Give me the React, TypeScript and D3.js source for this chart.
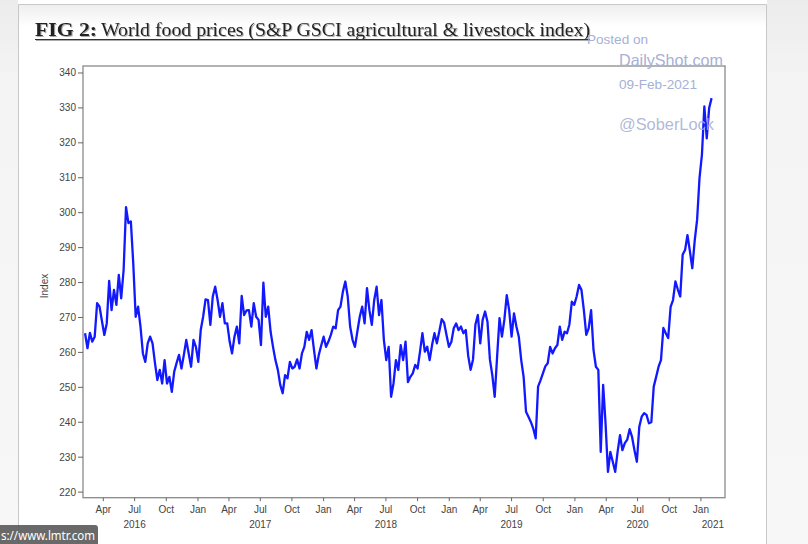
import React from "react";
import * as d3 from "d3";

// Weekly readings of the S&P GSCI agricultural & livestock index (from Feb 2016)
const food2016 = [265.5, 261.2, 265.6, 263.1, 264.5, 274.1, 273.1, 269, 265, 268.3,
  280.5, 272.1, 277.9, 273.6, 282.2, 275.5, 283.6, 301.6, 297, 297.5,
  285.5, 270.2, 273.1, 267.4, 259.7, 257.3, 262.6, 264.5, 262.6, 257,
  252.1, 255, 251.1, 257.8, 251.1, 253, 248.7, 254.5, 257, 259.3,
  255.4, 259.3, 263.6, 259.7, 255.9, 263.6, 261.6];
const food2017 = [257.3, 266.4, 270.2, 275.2, 275, 267.9, 276, 278.8, 275, 270.2,
  274.1, 268.3, 268.3, 263.1, 259.7, 264.5, 267.4, 262.6, 276.2, 270.7,
  272, 272.1, 267.4, 274.1, 270.2, 269.3, 262.1, 280, 270.2, 273.1,
  265.9, 261.6, 257.8, 255, 250.7, 248.3, 253.5, 252.6, 257.3, 255.4,
  255.9, 258, 255.4, 259.7, 261.6, 265.9, 263.6, 266.4, 260.7, 255.4,
  259.3, 262];
const food2018 = [264.5, 261.6, 263.1, 265, 267.4, 266.9, 272.1, 273.1, 277.4, 280.3,
  276, 267.4, 263.6, 261.6, 266, 270.2, 273.1, 268.3, 278.4, 272.1,
  267.9, 275, 278.8, 270.7, 275, 263.6, 257.8, 261.6, 247.3, 251.1,
  257.8, 255, 262.1, 257.8, 263.1, 251.5, 253, 254, 256.4, 255.4,
  260.2, 265.5, 260.2, 261.6, 257.8, 262.1, 265.5, 262.6, 266, 269.5,
  268.5, 265, 261.6];
const food2019 = [263, 266.9, 268.3, 266.4, 267.4, 265.5, 266.4, 259, 255, 258,
  268, 270.7, 262.6, 269.3, 271.7, 268.8, 258, 253.5, 247.3, 258.8,
  269.8, 264.5, 269.3, 276.4, 272.1, 264.5, 271.2, 267.4, 264.5, 257.8,
  253, 243, 241.6, 240.1, 238.2, 235.4, 250.2, 252, 254, 256,
  256.9, 261.6, 259.7, 261.2, 262.1, 267.4, 263.6, 265.9, 265.5, 268,
  274.5, 273.6];
const food2020 = [276, 279.3, 277.9, 272.1, 265, 266.9, 272.1, 260.7, 255.9, 255,
  231.5, 250.7, 239.7, 225.8, 231.5, 228.7, 225.8, 231.5, 236.3, 232,
  234, 235, 238, 235.8, 232, 228.7, 238.7, 241.6, 242.6, 242.1,
  239.7, 240, 250.2, 253, 255.9, 257.8, 267, 265.5, 264.1, 273,
  275, 280.3, 278, 276, 288, 289.3, 293.6, 289, 284.1, 292,
  298, 310];
const food2021 = [316.6, 330.4, 321.3, 330, 332.8];

const SERIES_START = new Date(2016, 1, 8);
const X_DOMAIN = [new Date(2016, 1, 2), new Date(2021, 2, 12)];
const Y_DOMAIN = [218.4, 342];
const yTickValues = [220, 230, 240, 250, 260, 270, 280, 290, 300, 310, 320, 330, 340];
const yearLabels = [2016, 2017, 2018, 2019, 2020, 2021];

const TITLE_BOLD = "FIG 2:";
const TITLE_REST = "World food prices (S&P GSCI agricultural & livestock index)";
const Y_LABEL = "Index";

export default function App() {
  const W = 808, H = 544;
  const L = 83, R = 725, T = 66, B = 497.7;
  const values = [...food2016, ...food2017, ...food2018, ...food2019, ...food2020, ...food2021];
  const data = values.map((v, i) => ({ date: d3.timeWeek.offset(SERIES_START, i), value: v }));

  const x = d3.scaleTime().domain(X_DOMAIN).range([L, R]);
  const y = d3.scaleLinear().domain(Y_DOMAIN).range([B, T]);
  const line = d3.line<{ date: Date; value: number }>().x(d => x(d.date)).y(d => y(d.value));
  const xTicks = d3.timeMonth.every(3)!.range(new Date(2016, 3, 1), new Date(2021, 0, 2));
  const fmt = d3.timeFormat("%b");
  const yearX = (yr: number) =>
    yr === 2021 ? (x(new Date(2021, 0, 1)) + R) / 2 : x(new Date(yr, 6, 1));

  const axisFont = "'Liberation Sans', Arial, sans-serif";
  const wm = "#a7b0d6";

  return (
    <div style={{ position: "fixed", left: 0, top: 0 }}>
      <svg width={W} height={H} viewBox={`0 0 ${W} ${H}`} style={{ display: "block" }}>
        <defs>
          <linearGradient id="sideG" x1="0" y1="0" x2="0" y2="1">
            <stop offset="0" stopColor="#ececec" />
            <stop offset="0.15" stopColor="#f4f4f4" />
            <stop offset="1" stopColor="#f7f7f7" />
          </linearGradient>
          <linearGradient id="topG" x1="0" y1="0" x2="0" y2="1">
            <stop offset="0" stopColor="#eeeeee" />
            <stop offset="1" stopColor="#ffffff" />
          </linearGradient>
          <filter id="tshadow" x="-5%" y="-30%" width="110%" height="160%">
            <feDropShadow dx="1" dy="1" stdDeviation="0.6" floodColor="#888" floodOpacity="0.7" />
          </filter>
        </defs>
        <rect x={0} y={0} width={W} height={H} fill="#ffffff" />
        <rect x={0} y={0} width={18} height={H} fill="url(#sideG)" />
        <rect x={767} y={0} width={W - 767} height={H} fill="url(#sideG)" />
        <rect x={18.5} y={4.5} width={748} height={22} fill="url(#topG)" />
        <path d={`M18.5,${H} V4.5 H766.5 V${H}`} fill="none" stroke="#c8c8c8" strokeWidth={1} />

        {/* title */}
        <g filter="url(#tshadow)">
          <text x={35} y={36} fontFamily="'Liberation Serif', 'Times New Roman', serif" fontSize={18}
            fontWeight="bold" fill="#222" textLength={62} lengthAdjust="spacingAndGlyphs">{TITLE_BOLD}</text>
          <text x={101} y={36} fontFamily="'Liberation Serif', 'Times New Roman', serif" fontSize={18}
            fill="#222" textLength={489} lengthAdjust="spacingAndGlyphs">{TITLE_REST}</text>
          <line x1={35} x2={590} y1={39.5} y2={39.5} stroke="#333" strokeWidth={1.2} />
        </g>

        {/* plot frame */}
        <rect x={L} y={T} width={R - L} height={B - T} fill="#fff" stroke="#8a8a8a" strokeWidth={1.3} />

        {/* y axis */}
        {yTickValues.map(v => (
          <g key={v}>
            <line x1={L - 5} x2={L} y1={y(v)} y2={y(v)} stroke="#666" strokeWidth={1} />
            <text x={L - 7} y={y(v)} dy="0.35em" textAnchor="end" fontFamily={axisFont}
              fontSize={10} fill="#444">{v}</text>
          </g>
        ))}
        <text transform={`translate(48,${y(279)}) rotate(-90)`} textAnchor="middle"
          fontFamily={axisFont} fontSize={10} fill="#444">{Y_LABEL}</text>

        {/* x axis */}
        {xTicks.map((d, i) => (
          <g key={i}>
            <line x1={x(d)} x2={x(d)} y1={B} y2={B + 3.5} stroke="#666" strokeWidth={1} />
            <text x={x(d)} y={513} textAnchor="middle" fontFamily={axisFont} fontSize={10}
              fill="#444">{fmt(d)}</text>
          </g>
        ))}
        {yearLabels.map(yr => (
          <text key={yr} x={yearX(yr)} y={528} textAnchor="middle" fontFamily={axisFont}
            fontSize={10} fill="#444">{yr}</text>
        ))}

        {/* series */}
        <path d={line(data) || ""} fill="none" stroke="#1219ff" strokeWidth={2.3}
          strokeLinejoin="round" />

        {/* watermark */}
        <text x={587} y={44} fontFamily={axisFont} fontSize={12.5} fill={wm}
          textLength={61} lengthAdjust="spacingAndGlyphs">Posted on</text>
        <text x={619} y={66} fontFamily={axisFont} fontSize={16.5} fill={wm}
          textLength={104} lengthAdjust="spacingAndGlyphs">DailyShot.com</text>
        <text x={619} y={89} fontFamily={axisFont} fontSize={12} fill={wm}
          textLength={78} lengthAdjust="spacingAndGlyphs">09-Feb-2021</text>
        <text x={619} y={130} fontFamily={axisFont} fontSize={16.5} fill={wm} fillOpacity={0.9}
          textLength={95} lengthAdjust="spacingAndGlyphs">@SoberLock</text>

        {/* url badge */}
        <rect x={-4} y={525} width={102} height={24} rx={3} fill="#5c5c5c" fillOpacity={0.92} />
        <text x={1} y={539.5} fontFamily="'Noto Sans', 'Liberation Sans', sans-serif" fontSize={12.5}
          fill="#ffffff" textLength={94} lengthAdjust="spacingAndGlyphs">s://www.lmtr.com</text>
      </svg>
    </div>
  );
}
